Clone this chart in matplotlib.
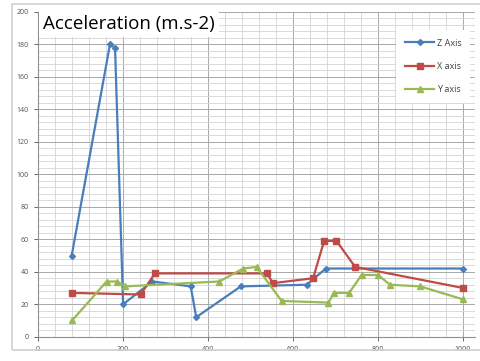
import matplotlib.pyplot as plt
from matplotlib.patches import Rectangle
from matplotlib.ticker import MultipleLocator

# Z axis (blue)
z_x = [80, 170, 182, 201, 270, 360, 373, 478, 633, 678, 1001]
z_y = [50, 180, 178, 20, 34, 31, 12, 31, 32, 42, 42]

# X axis (red)
x_x = [80, 242, 276, 539, 554, 648, 674, 703, 747, 1001]
x_y = [27, 26, 39, 39, 33, 36, 59, 59, 43, 30]

# Y axis (green)
y_x = [81, 162, 187, 206, 427, 484, 515, 574, 684, 697, 733, 762, 801, 829, 900, 1001]
y_y = [10, 34, 34, 31, 34, 42, 43, 22, 21, 27, 27, 38, 38, 32, 31, 23]

plt.rcParams["font.family"] = ["Open Sans", "DejaVu Sans"]

fig = plt.figure(figsize=(4.81, 3.61), dpi=100)
# chart border
fig.patches.append(Rectangle((12 / 481, 11 / 361), 470 / 481, 346 / 361,
                             transform=fig.transFigure, fill=False,
                             edgecolor="#d0d0d0", linewidth=1.2))

ax = fig.add_axes([37.7 / 481, 24.3 / 361, 437.3 / 481, 324.7 / 361])

ax.plot(z_x, z_y, color="#4a7ebb", lw=1.6, marker="D", ms=3, label="Z Axis")
ax.plot(x_x, x_y, color="#be4b48", lw=1.6, marker="s", ms=4.5, label="X axis")
ax.plot(y_x, y_y, color="#98b954", lw=1.6, marker="^", ms=4.5, label="Y axis")

ax.set_xlim(0, 1029)
ax.set_ylim(0, 200)
ax.xaxis.set_major_locator(MultipleLocator(200))
ax.xaxis.set_minor_locator(MultipleLocator(40))
ax.yaxis.set_major_locator(MultipleLocator(20))
ax.yaxis.set_minor_locator(MultipleLocator(4))
ax.grid(which="major", color="#a8a8a8", lw=0.7)
ax.grid(which="minor", color="#d4d4d4", lw=0.6)
ax.set_axisbelow(True)

for s in ["top", "right"]:
    ax.spines[s].set_visible(False)
for s in ["left", "bottom"]:
    ax.spines[s].set_color("#909090")
    ax.spines[s].set_linewidth(0.8)
ax.tick_params(which="major", labelsize=5, colors="#505050", length=3, width=0.6)
ax.tick_params(which="minor", length=0)

ax.text(0.012, 0.99, "Acceleration (m.s-2)", transform=ax.transAxes,
        fontsize=13.5, va="top", ha="left", color="black",
        bbox=dict(facecolor="white", edgecolor="none", pad=3), zorder=5)

leg = ax.legend(loc="upper right", bbox_to_anchor=(1.0, 0.96), fontsize=6.5,
                frameon=True, fancybox=False, edgecolor="none", framealpha=1,
                handlelength=3.2, handletextpad=0.3, labelspacing=1.6,
                borderpad=1.0)
for t in leg.get_texts():
    t.set_color("#404040")

fig.savefig("out.png", dpi=100)
